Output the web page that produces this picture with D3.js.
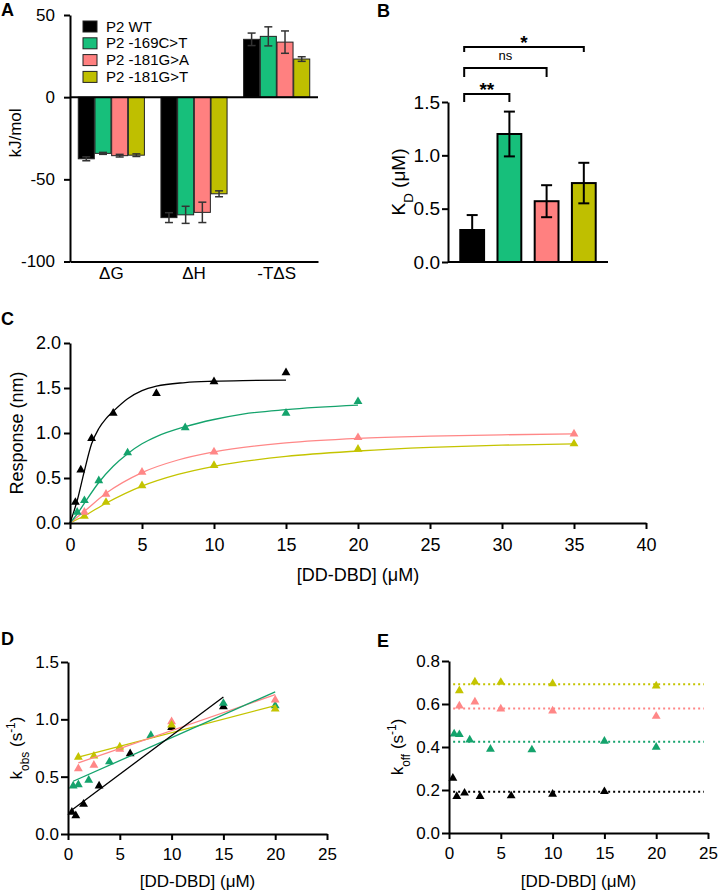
<!DOCTYPE html>
<html>
<head>
<meta charset="utf-8">
<script src="https://cdn.jsdelivr.net/npm/d3@7"></script>
<style>
body { margin: 0; background: #fff; }
svg text { font-family: Arial, "Liberation Sans", Helvetica, sans-serif; fill: #000; }
.axis path, .axis line { stroke: #000; stroke-width: 2px; }
</style>
</head>
<body>
<div id="chartDiv"></div>
<script>
// ---- colours (bars / markers) ----
const barColors = ['#000000', '#17bf7b', '#ff8080', '#bfbf00'];
const markColors = ['#000000', '#14a36c', '#ff8787', '#c4c400'];

// ---- panel A : thermodynamics ----
const thermoTerms = ['ΔG', 'ΔH', '-TΔS'];
const variantNames = ['P2 WT', 'P2 -169C>T', 'P2 -181G>A', 'P2 -181G>T'];
const thermoWT = [-37.5, -73.3, 35.2];
const thermo169 = [-34.2, -71.6, 37.0];
const thermo181A = [-35.6, -70.1, 33.5];
const thermo181T = [-35.3, -58.8, 23.2];
const thermoErrWT = [1.2, 3.0, 3.8];
const thermoErr169 = [0.6, 5.2, 5.8];
const thermoErr181A = [0.8, 6.2, 6.8];
const thermoErr181T = [0.8, 1.8, 1.4];
const thermoTicks = [50, 0, -50, -100];

// ---- panel B : KD ----
const kdMeans = [0.30, 1.20, 0.57, 0.74];
const kdErrs = [0.14, 0.21, 0.15, 0.19];
const kdSignif = ['**', 'ns', '*']; // vs P2 WT
const kdTicks = [0, 0.5, 1.0, 1.5];

// ---- panel C : binding response ----
const bindConcWT = [0.375, 0.75, 1.5, 3, 6, 10, 15];
const bindRespWT = [0.23, 0.59, 0.94, 1.22, 1.44, 1.57, 1.67];
const bindConc169 = [0.5, 1, 2, 4, 8, 15, 20];
const bindResp169 = [0.12, 0.25, 0.47, 0.78, 1.06, 1.22, 1.35];
const bindConc181A = [1, 2.5, 5, 10, 20, 35];
const bindResp181A = [0.12, 0.32, 0.565, 0.79, 0.95, 0.99];
const bindConc181T = [1, 2.5, 5, 10, 20, 35];
const bindResp181T = [0.075, 0.23, 0.415, 0.64, 0.82, 0.88];
// fitted curves
const fitConcWT = [0, 0.5, 1, 1.5, 2, 2.5, 3, 4, 5, 6, 8, 10, 12, 15];
const fitRespWT = [0, 0.25, 0.58, 0.88, 1.05, 1.16, 1.24, 1.38, 1.47, 1.52, 1.56, 1.575, 1.583, 1.588];
const fitConc169 = [0, 0.5, 1, 2, 3, 4, 5, 6, 8, 10, 12, 15, 20];
const fitResp169 = [0, 0.1, 0.22, 0.45, 0.63, 0.77, 0.88, 0.96, 1.07, 1.15, 1.21, 1.26, 1.31];
const fitConc181A = [0, 1, 2.5, 5, 7.5, 10, 15, 20, 25, 30, 35];
const fitResp181A = [0, 0.13, 0.33, 0.56, 0.70, 0.79, 0.89, 0.94, 0.965, 0.98, 0.99];
const fitConc181T = [0, 1, 2.5, 5, 7.5, 10, 15, 20, 25, 30, 35];
const fitResp181T = [0, 0.08, 0.22, 0.41, 0.54, 0.63, 0.74, 0.80, 0.84, 0.865, 0.88];

// ---- panel D : kobs ----
const kobsConcWT = [0.375, 0.75, 1.5, 3, 6, 10, 15];
const kobsWT = [0.19, 0.16, 0.26, 0.42, 0.70, 0.93, 1.11];
const kobsConc169 = [0.5, 1, 2, 4, 8, 15, 20];
const kobs169 = [0.42, 0.43, 0.47, 0.63, 0.86, 1.14, 1.12];
const kobsConc181A = [1, 2.5, 5, 10, 20];
const kobs181A = [0.57, 0.60, 0.74, 0.98, 1.17];
const kobsConc181T = [1, 2.5, 5, 10, 20];
const kobs181T = [0.67, 0.68, 0.76, 0.95, 1.09];
const kobsLineWT = [[0.375, 0.21], [15, 1.195]];
const kobsLine169 = [[0.5, 0.46], [20, 1.24]];
const kobsLine181A = [[1, 0.62], [20, 1.215]];
const kobsLine181T = [[1, 0.67], [20, 1.12]];

// ---- panel E : koff ----
const koffConcWT = [0.375, 0.75, 1.5, 3, 6, 10, 15];
const koffWT = [0.255, 0.17, 0.186, 0.17, 0.173, 0.181, 0.193];
const koffConc169 = [0.5, 1, 2, 4, 8, 15, 20];
const koff169 = [0.461, 0.458, 0.433, 0.39, 0.387, 0.427, 0.399];
const koffConc181A = [1, 2.5, 5, 10, 20];
const koff181A = [0.591, 0.61, 0.577, 0.568, 0.543];
const koffConc181T = [1, 2.5, 5, 10, 20];
const koff181T = [0.662, 0.703, 0.701, 0.695, 0.684];
const koffMeans = [0.192, 0.425, 0.579, 0.692];
const koffLineX = [0.4, 24.6];

const W = 718, H = 892;
const svg = d3.select('#chartDiv').append('svg').attr('width', W).attr('height', H);

function zip(xs, ys){ return xs.map((x, i) => [x, ys[i]]); }

function styleAxis(g, fs){
	g.attr('class', 'axis').attr('font-family', null);
	g.selectAll('text').style('font-size', fs + 'px');
	return g;
}

function panelLetter(t, x, y){
	svg.append('text').attr('x', x).attr('y', y)
		.style('font-size', '18px').style('font-weight', 'bold').text(t);
}

function rotLabel(x, y, fs, parts){
	const t = svg.append('text')
		.attr('transform', `translate(${x},${y}) rotate(-90)`)
		.attr('text-anchor', 'middle')
		.style('font-size', fs + 'px');
	parts.forEach(p => {
		const s = t.append('tspan').text(p[0]);
		if(p[1]) s.attr('baseline-shift', p[1]).style('font-size', (fs * 0.7) + 'px');
	});
}

function xLabel(x, y, fs, txt){
	svg.append('text').attr('x', x).attr('y', y).attr('text-anchor', 'middle')
		.style('font-size', fs + 'px').text(txt);
}

// ================= Panel A =================
function buildA(){
	const x0 = d3.scaleBand().domain(thermoTerms).range([70, 318]).paddingInner(0.2).paddingOuter(0.1);
	const x1 = d3.scaleBand().domain(d3.range(4)).range([0, x0.bandwidth()]).paddingInner(0.04);
	const y = d3.scaleLinear().domain([-100, 50]).range([261.5, 15]);
	const vals = [thermoWT, thermo169, thermo181A, thermo181T];
	const errs = [thermoErrWT, thermoErr169, thermoErr181A, thermoErr181T];

	const g = svg.append('g');
	thermoTerms.forEach((term, i) => {
		vals.forEach((arr, j) => {
			const v = arr[i], e = errs[j][i];
			const cx = x0(term) + x1(j) + x1.bandwidth() / 2;
			g.append('rect')
				.attr('x', x0(term) + x1(j)).attr('width', x1.bandwidth())
				.attr('y', y(Math.max(0, v))).attr('height', Math.abs(y(v) - y(0)))
				.attr('fill', barColors[j]).attr('stroke', '#222').attr('stroke-width', 1);
			const eg = g.append('g').attr('stroke', '#333').attr('stroke-width', 1.5);
			eg.append('line').attr('x1', cx).attr('x2', cx).attr('y1', y(v - e)).attr('y2', y(v + e));
			[v - e, v + e].forEach(yy => eg.append('line')
				.attr('x1', cx - 4).attr('x2', cx + 4).attr('y1', y(yy)).attr('y2', y(yy)));
		});
	});

	// zero line
	svg.append('line').attr('x1', 70).attr('x2', 318).attr('y1', y(0)).attr('y2', y(0))
		.attr('stroke', '#000').attr('stroke-width', 2);

	styleAxis(svg.append('g').attr('transform', 'translate(70,0)')
		.call(d3.axisLeft(y).tickValues(thermoTicks).tickFormat(d => String(d))
			.tickSize(6).tickSizeOuter(0).tickPadding(9)), 17);
	styleAxis(svg.append('g').attr('transform', `translate(0,${y(-100)})`)
		.call(d3.axisBottom(x0).tickSize(0).tickSizeOuter(0).tickPadding(5)), 17);

	// legend
	const lg = svg.append('g').attr('transform', 'translate(83,21)');
	variantNames.forEach((n, j) => {
		const r = lg.append('g').attr('transform', `translate(0,${j * 16.8})`);
		r.append('rect').attr('width', 14).attr('height', 11)
			.attr('fill', barColors[j]).attr('stroke', '#222').attr('stroke-width', 1);
		r.append('text').attr('x', 23).attr('y', 10.5).style('font-size', '15px').text(n);
	});

	rotLabel(21, 133, 17, [['kJ/mol']]);
	panelLetter('A', 1, 16);
}

// ================= Panel B =================
function buildB(){
	const x = d3.scaleBand().domain(d3.range(4)).range([448, 608]).paddingInner(0.36).paddingOuter(0.33);
	const y = d3.scaleLinear().domain([0, 1.5]).range([262, 102]);
	const cx = i => x(i) + x.bandwidth() / 2;

	kdMeans.forEach((v, i) => {
		svg.append('rect').attr('x', x(i)).attr('width', x.bandwidth())
			.attr('y', y(v)).attr('height', y(0) - y(v))
			.attr('fill', barColors[i]).attr('stroke', '#000').attr('stroke-width', 2);
		const e = kdErrs[i];
		const eg = svg.append('g').attr('stroke', '#000').attr('stroke-width', 2);
		eg.append('line').attr('x1', cx(i)).attr('x2', cx(i)).attr('y1', y(v - e)).attr('y2', y(v + e));
		[v - e, v + e].forEach(yy => eg.append('line')
			.attr('x1', cx(i) - 5.5).attr('x2', cx(i) + 5.5).attr('y1', y(yy)).attr('y2', y(yy)));
	});

	styleAxis(svg.append('g').attr('transform', 'translate(448,0)')
		.call(d3.axisLeft(y).tickValues(kdTicks).tickFormat(d3.format('.1f'))
			.tickSize(6).tickSizeOuter(0).tickPadding(2)), 19);
	svg.append('line').attr('x1', 448).attr('x2', 608).attr('y1', y(0)).attr('y2', y(0))
		.attr('stroke', '#000').attr('stroke-width', 2);

	// significance brackets
	const levels = [94, 68, 47], legs = [102, 77, 52];
	kdSignif.forEach((s, k) => {
		const x1 = cx(0) - 8, x2 = cx(k + 1);
		svg.append('path')
			.attr('d', `M${x1},${legs[k]}V${levels[k]}H${x2}V${legs[k]}`)
			.attr('fill', 'none').attr('stroke', '#000').attr('stroke-width', 2);
		const t = svg.append('text').attr('x', (x1 + x2) / 2).attr('text-anchor', 'middle').text(s);
		if(s === 'ns') t.attr('y', levels[k] - 8).style('font-size', '13px');
		else t.attr('y', levels[k] + 2).style('font-size', '19px').style('font-weight', 'bold');
	});

	rotLabel(405, 182, 19, [['K'], ['D', 'sub'], [' (μM)']]);
	panelLetter('B', 377, 17);
}

// ============ scatter helper (C, D, E) ============
function scatter(g, x, y, pts, color){
	g.selectAll(null).data(pts).enter().append('path')
		.attr('d', d3.symbol(d3.symbolTriangle, 34))
		.attr('transform', d => `translate(${x(d[0])},${y(d[1])})`)
		.attr('fill', color);
}

// ================= Panel C =================
function buildC(){
	const x = d3.scaleLinear().domain([0, 40]).range([70, 646]);
	const y = d3.scaleLinear().domain([0, 2]).range([523, 343]);
	const line = d3.line().x(d => x(d[0])).y(d => y(d[1])).curve(d3.curveMonotoneX);
	const fits = [zip(fitConcWT, fitRespWT), zip(fitConc169, fitResp169), zip(fitConc181A, fitResp181A), zip(fitConc181T, fitResp181T)];
	const pts = [zip(bindConcWT, bindRespWT), zip(bindConc169, bindResp169), zip(bindConc181A, bindResp181A), zip(bindConc181T, bindResp181T)];
	const g = svg.append('g');
	[3, 2, 1, 0].forEach(i => {
		g.append('path').attr('d', line(fits[i])).attr('fill', 'none')
			.attr('stroke', markColors[i]).attr('stroke-width', 1.3);
	});
	[3, 2, 1, 0].forEach(i => scatter(g, x, y, pts[i], markColors[i]));

	styleAxis(svg.append('g').attr('transform', 'translate(70,0)')
		.call(d3.axisLeft(y).ticks(4).tickFormat(d3.format('.1f')).tickSize(6).tickSizeOuter(0).tickPadding(3)), 18);
	styleAxis(svg.append('g').attr('transform', 'translate(0,523)')
		.call(d3.axisBottom(x).ticks(8).tickFormat(d3.format('d')).tickSize(6).tickSizeOuter(0).tickPadding(9)), 18);

	xLabel(358, 581, 18, '[DD-DBD] (μM)');
	rotLabel(23, 433, 18, [['Response (nm)']]);
	panelLetter('C', 1, 325);
}

// ================= Panel D =================
function buildD(){
	const x = d3.scaleLinear().domain([0, 25]).range([68, 327]);
	const y = d3.scaleLinear().domain([0, 1.5]).range([834, 662]);
	const line = d3.line().x(d => x(d[0])).y(d => y(d[1]));
	const lines = [kobsLineWT, kobsLine169, kobsLine181A, kobsLine181T];
	const pts = [zip(kobsConcWT, kobsWT), zip(kobsConc169, kobs169), zip(kobsConc181A, kobs181A), zip(kobsConc181T, kobs181T)];
	const g = svg.append('g');
	[0, 1, 2, 3].forEach(i => scatter(g, x, y, pts[i], markColors[i]));
	[3, 2, 1, 0].forEach(i => g.append('path').attr('d', line(lines[i])).attr('fill', 'none')
		.attr('stroke', markColors[i]).attr('stroke-width', 1.3));

	styleAxis(svg.append('g').attr('transform', 'translate(68,0)')
		.call(d3.axisLeft(y).ticks(3).tickFormat(d3.format('.1f')).tickSize(7).tickSizeOuter(0).tickPadding(2)), 17);
	styleAxis(svg.append('g').attr('transform', 'translate(0,834)')
		.call(d3.axisBottom(x).ticks(5).tickFormat(d3.format('d')).tickSize(6).tickSizeOuter(0).tickPadding(8)), 17);

	xLabel(197.5, 887, 17, '[DD-DBD] (μM)');
	rotLabel(22, 748, 17, [['k'], ['obs', 'sub'], [' (s'], ['-1', 'super'], [')']]);
	panelLetter('D', 1, 645);
}

// ================= Panel E =================
function buildE(){
	const x = d3.scaleLinear().domain([0, 25]).range([449, 708]);
	const y = d3.scaleLinear().domain([0, 0.8]).range([833, 661]);
	const pts = [zip(koffConcWT, koffWT), zip(koffConc169, koff169), zip(koffConc181A, koff181A), zip(koffConc181T, koff181T)];
	const g = svg.append('g');
	koffMeans.forEach((m, i) => {
		g.append('line').attr('x1', x(koffLineX[0])).attr('x2', x(koffLineX[1]))
			.attr('y1', y(m)).attr('y2', y(m))
			.attr('stroke', markColors[i]).attr('stroke-width', 2).attr('stroke-dasharray', '2,3');
	});
	[0, 1, 2, 3].forEach(i => scatter(g, x, y, pts[i], markColors[i]));

	styleAxis(svg.append('g').attr('transform', 'translate(449,0)')
		.call(d3.axisLeft(y).ticks(4).tickFormat(d3.format('.1f')).tickSize(7).tickSizeOuter(0).tickPadding(2)), 17);
	styleAxis(svg.append('g').attr('transform', 'translate(0,833)')
		.call(d3.axisBottom(x).ticks(5).tickFormat(d3.format('d')).tickSize(6).tickSizeOuter(0).tickPadding(8)), 17);

	xLabel(578.5, 887, 17, '[DD-DBD] (μM)');
	rotLabel(403, 747, 17, [['k'], ['off', 'sub'], [' (s'], ['-1', 'super'], [')']]);
	panelLetter('E', 377, 647);
}

buildA();
buildB();
buildC();
buildD();
buildE();
</script>
</body>
</html>
